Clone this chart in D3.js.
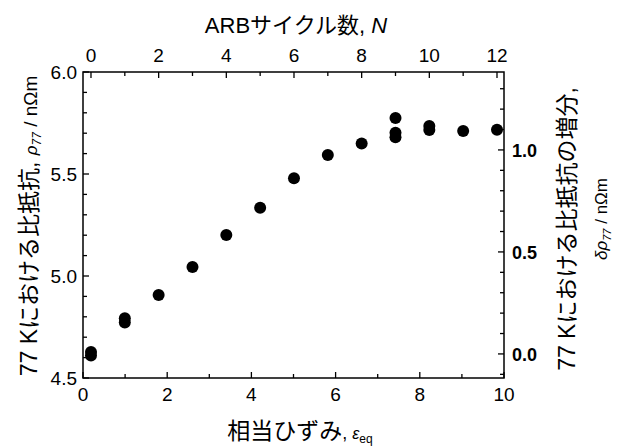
<!DOCTYPE html>
<html><head><meta charset="utf-8">
<script src="https://cdn.jsdelivr.net/npm/d3@7"></script>
<style>
body{margin:0;background:#fff;}
text{font-family:"Liberation Sans",Arial,"Noto Sans CJK JP",sans-serif;fill:#000;}
</style></head>
<body><svg id="c" width="617" height="448"></svg>
<script>
// ARB cycle number of each measured specimen
const cycles = [0,0,1,1,2,3,4,5,6,7,8,9,9,9,10,10,11,12];
// resistivity at 77 K (nΩm)
const rho77 = [4.628,4.610,4.793,4.772,4.907,5.044,5.201,5.335,5.479,5.593,5.649,5.775,5.702,5.680,5.735,5.716,5.711,5.717];
const rhoBase = 4.618; // reference for the increment axis
const strainTicks = [0,2,4,6,8,10];
const cycleTicks = [0,2,4,6,8,10,12];
const rhoTicks = [4.5,5.0,5.5,6.0];
const deltaTicks = [0.0,0.5,1.0];

(function(){
const L=83,R=504,T=72,B=378;
const svg=d3.select("#c");

const xStrain=d3.scaleLinear().domain([0,10]).range([L,R]);
const xCycle=d3.scaleLinear().domain([-0.236,12.207]).range([L,R]);
const yRho=d3.scaleLinear().domain([4.5,6.0]).range([B,T]);
const yDelta=d3.scaleLinear().domain([4.5-rhoBase,6.0-rhoBase]).range([B,T]);

svg.append("rect").attr("x",L).attr("y",T).attr("width",R-L).attr("height",B-T)
  .attr("fill","none").attr("stroke","#000").attr("stroke-width",1.5);

const tk=svg.append("g").attr("stroke","#000").attr("stroke-width",1.3);
d3.range(0,11,1).forEach(v=>{const x=xStrain(v);const len=v%2===0?6:4;
  tk.append("line").attr("x1",x).attr("x2",x).attr("y1",B).attr("y2",B-len);});
d3.range(0,13,1).forEach(v=>{const x=xCycle(v);const len=v%2===0?6:4;
  tk.append("line").attr("x1",x).attr("x2",x).attr("y1",T).attr("y2",T+len);});
d3.range(45,61,1).forEach(i=>{const v=i/10;const y=yRho(v);const len=i%5===0?6:4;
  tk.append("line").attr("x1",L).attr("x2",L+len).attr("y1",y).attr("y2",y);});
d3.range(-1,14,1).forEach(i=>{const v=i/10;const y=yDelta(v);const len=i%5===0?6:4;
  tk.append("line").attr("x1",R).attr("x2",R-len).attr("y1",y).attr("y2",y);});

strainTicks.forEach(v=>svg.append("text").attr("x",xStrain(v)).attr("y",401)
  .attr("text-anchor","middle").attr("font-size",19).text(v));
cycleTicks.forEach(v=>svg.append("text").attr("x",xCycle(v)).attr("y",62)
  .attr("text-anchor","middle").attr("font-size",19).text(v));
rhoTicks.forEach(v=>svg.append("text").attr("x",77).attr("y",yRho(v)+7)
  .attr("text-anchor","end").attr("font-size",19).text(v.toFixed(1)));
deltaTicks.forEach(v=>svg.append("text").attr("x",512).attr("y",yDelta(v)+7)
  .attr("text-anchor","start").attr("font-size",18).attr("font-weight","bold").text(v.toFixed(1)));

svg.append("g").selectAll("circle").data(cycles).join("circle")
  .attr("cx",(d)=>xCycle(d)).attr("cy",(d,i)=>yRho(rho77[i])).attr("r",6).attr("fill","#000");

const tt=svg.append("text").attr("x",296).attr("y",33).attr("text-anchor","middle").attr("font-size",22);
tt.append("tspan").text("ARBサイクル数, ");
tt.append("tspan").attr("font-style","italic").text("N");

const bt=svg.append("text").attr("x",300).attr("y",439).attr("text-anchor","middle").attr("font-size",23);
bt.append("tspan").text("相当ひずみ");
bt.append("tspan").attr("font-size",18).text(", ");
bt.append("tspan").attr("font-size",16).attr("font-style","italic").text("ε");
bt.append("tspan").attr("font-size",12).attr("dy",4).text("eq");

const lt=svg.append("text").attr("transform","translate(37,226) rotate(-90)").attr("text-anchor","middle").attr("font-size",23);
lt.append("tspan").text("77 Kにおける比抵抗, ");
lt.append("tspan").attr("font-style","italic").attr("font-size",17).text("ρ");
lt.append("tspan").attr("font-style","italic").attr("font-size",12).attr("dy",4).text("77");
lt.append("tspan").attr("font-size",19).attr("dy",-4).text(" / nΩm");

const rt=svg.append("text").attr("transform","translate(575,229) rotate(-90)").attr("text-anchor","middle").attr("font-size",23);
rt.append("tspan").text("77 Kにおける比抵抗の増分,");
const rt2=svg.append("text").attr("transform","translate(607,219) rotate(-90)").attr("text-anchor","middle").attr("font-size",17);
rt2.append("tspan").attr("font-style","italic").text("δρ");
rt2.append("tspan").attr("font-style","italic").attr("font-size",11).attr("dy",4).text("77");
rt2.append("tspan").attr("dy",-4).text(" / nΩm");
})();
</script></body></html>
